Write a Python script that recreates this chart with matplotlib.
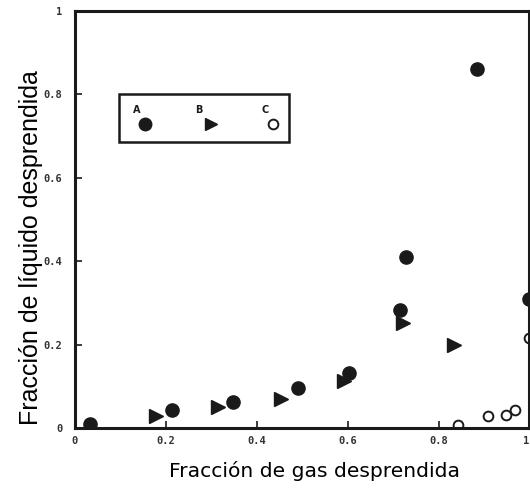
import matplotlib
matplotlib.use("Agg")
import matplotlib.pyplot as plt
from matplotlib.patches import Rectangle

# Series A: filled circles
a_x = [0.032, 0.214, 0.348, 0.490, 0.602, 0.716, 0.728, 0.884, 1.000]
a_y = [0.010, 0.042, 0.062, 0.096, 0.133, 0.283, 0.410, 0.860, 0.310]

# Series B: right-pointing triangles
b_x = [0.178, 0.314, 0.454, 0.592, 0.722, 0.834]
b_y = [0.028, 0.050, 0.070, 0.113, 0.251, 0.200]

# Series C: open circles
c_x = [0.842, 0.908, 0.949, 0.968, 1.000]
c_y = [0.008, 0.029, 0.030, 0.042, 0.216]

x_ticks = [0, 0.2, 0.4, 0.6, 0.8, 1.0]
x_tick_labels = ["0", "0.2", "0.4", "0.6", "0.8", "1"]
y_ticks = [0, 0.2, 0.4, 0.6, 0.8, 1.0]
y_tick_labels = ["0", "0.2", "0.4", "0.6", "0.8", "1"]

ink = "#1a1a1a"

fig = plt.figure(figsize=(5.30, 4.91), dpi=100)
ax = fig.add_axes([0.1415, 0.1283, 0.8575, 0.8493])

ax.plot(a_x, a_y, linestyle="none", marker="o", ms=9.5, color=ink, mec=ink)
ax.plot(b_x, b_y, linestyle="none", marker=">", ms=9.5, color=ink, mec=ink)
ax.plot(c_x, c_y, linestyle="none", marker="o", ms=7, mfc="white", mec=ink, mew=1.4)

ax.set_xlim(0, 1.0)
ax.set_ylim(0, 1.0)

ax.set_xticks(x_ticks)
ax.set_xticklabels(x_tick_labels)
ax.set_yticks(y_ticks)
ax.set_yticklabels(y_tick_labels)
ax.tick_params(direction="in", length=5, width=1.2, color=ink, labelsize=7.5,
               labelcolor="#333333")
ax.tick_params(axis="x", pad=6)
ax.tick_params(axis="y", pad=9)
for lab in ax.get_xticklabels() + ax.get_yticklabels():
    lab.set_fontfamily("DejaVu Sans Mono")
    lab.set_fontweight("bold")
# keep the last x label inside the canvas
ax.get_xticklabels()[-1].set_horizontalalignment("right")

for side in ["left", "right", "top", "bottom"]:
    ax.spines[side].set_linewidth(2.2)
    ax.spines[side].set_color(ink)

# Key box with labels above their markers
ax.add_patch(Rectangle((0.097, 0.686), 0.374, 0.116, fill=False,
                       lw=1.8, ec=ink, zorder=3))
key_names = ["A", "B", "C"]
key_text_x = [0.136, 0.273, 0.418]
key_mark_x = [0.154, 0.299, 0.435]
for name, tx in zip(key_names, key_text_x):
    ax.text(tx, 0.763, name, fontsize=7, fontweight="bold",
            family="DejaVu Sans", ha="center", va="center", color=ink)
ax.plot(key_mark_x[0], 0.729, marker="o", ms=9, color=ink, linestyle="none")
ax.plot(key_mark_x[1], 0.729, marker=">", ms=9, color=ink, linestyle="none")
ax.plot(key_mark_x[2], 0.729, marker="o", ms=7, mfc="white", mec=ink,
        mew=1.4, linestyle="none")

fig.text(0.594, 0.040, "Fracción de gas desprendida", fontsize=14.6,
         family="DejaVu Sans", ha="center", va="center", color="black")
fig.text(0.058, 0.495, "Fracción de líquido desprendida", fontsize=18,
         family="Liberation Sans", rotation=90, ha="center", va="center",
         color="black")

fig.savefig("out.png", dpi=100, facecolor="white")
